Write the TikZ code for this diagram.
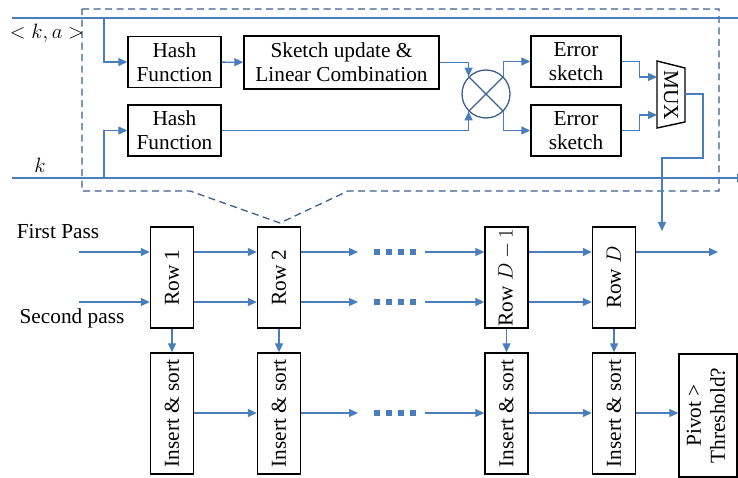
\documentclass[tikz,border=0pt]{standalone}
\usepackage{fontspec}
\setmainfont{Liberation Serif}
\usetikzlibrary{arrows.meta,calc,positioning}
\definecolor{wire}{RGB}{74,126,187}
\definecolor{frame}{RGB}{59,95,143}
\newcommand{\boxfont}{\fontsize{21.3}{24}\selectfont}

\begin{document}
\begin{tikzpicture}[x=1pt, y=-1pt,
  fbox/.style={draw, line width=1.4pt, inner sep=0pt, align=center, font=\boxfont},
  hbox/.style={fbox, minimum width=93pt, minimum height=51pt},
  ebox/.style={fbox, minimum width=90pt, minimum height=51pt},
  rowbox/.style={fbox, minimum width=43pt, minimum height=101pt},
  insbox/.style={fbox, minimum width=43pt, minimum height=121pt},
  wire/.style={draw=wire, line width=1.3pt},
  arr/.style={wire, -{Triangle[length=9pt,width=8pt]}},
  dots/.style={draw=wire, line width=6pt, dash pattern=on 6pt off 6pt},
  lbl/.style={font=\boxfont, inner sep=0pt}
]
\useasboundingbox (0,0) rectangle (738,478);

% zoomed-in row logic
\draw[frame, line width=1.3pt, dash pattern=on 7pt off 4.5pt]
  (82,9) -- (719,9) -- (719,191) -- (348,191) -- (280,223) -- (190,191) -- (82,191) -- cycle;

\coordinate (kaL) at (12,18);
\coordinate (kaR) at (740,18);
\coordinate (kL) at (12,178);
\coordinate (kR) at (746,178);
\coordinate (tap) at (104,0);
\node[lbl] (kalbl) at (47,33) {$<k,a>$};
\node[lbl] (klbl) at (40,165) {$k$};

\node[hbox] (hash1) at (174.5,62) {Hash\\Function};
\node[hbox] (hash2) at (174.5,130.5) {Hash\\Function};
\node[fbox, minimum width=195pt, minimum height=53pt] (sketch) at (341.5,62.5) {Sketch update \&\\Linear Combination};
\node[circle, draw=frame, line width=1.3pt, minimum size=48pt, inner sep=0pt] (mix) at (486,94) {};
\draw[frame, line width=1.3pt] (mix.north west) -- (mix.south east) (mix.north east) -- (mix.south west);
\node[ebox] (err1) at (576,61.5) {Error\\sketch};
\node[ebox] (err2) at (576,130.5) {Error\\sketch};

% mux
\draw[line width=1.4pt] (657,61) -- (685,68) -- (685,122) -- (657,128) -- cycle;
\node[lbl] (mux) at (671,95) {\rotatebox{-90}{MUX}};
\coordinate (muxA) at (657,77);
\coordinate (muxB) at (657,115);
\coordinate (muxO) at (685,94);
\coordinate (muxEnd) at (662,231);

\draw[wire] (kaL) -- (kaR);
\draw[arr] (kL) -- (kR);
\draw[arr] (kaL -| tap) |- (hash1.west);
\draw[arr] (kL -| tap) |- (hash2.west);
\draw[arr] (hash1) -- (sketch);
\draw[arr] (sketch.east) -| (mix.north west);
\draw[arr] (hash2.east) -| (mix.south west);
\draw[arr] (mix.north east) |- (err1.west);
\draw[arr] (mix.south east) |- (err2.west);
\draw[arr] (err1.east) -- ++(18,0) |- (muxA);
\draw[arr] (err2.east) -- ++(18,0) |- (muxB);
\draw[arr] (muxO) -- ++(18,0) -- ++(0,64) -| (muxEnd);

% pipeline of rows
\coordinate (ya) at (0,252);
\coordinate (yb) at (0,302);
\coordinate (yc) at (0,413);
\coordinate (inA) at (79,252);
\coordinate (inB) at (79,302);
\coordinate (cut) at (358,0);
\coordinate (dotL) at (374,0);
\coordinate (dotR) at (417,0);
\coordinate (join) at (425,0);
\coordinate (outD) at (718,252);
\node[lbl] (first) at (58,232) {First Pass};
\node[lbl] (second) at (72,318) {Second pass};

\foreach \n/\x/\t in {r1/172/{Row 1}, r2/279/{Row 2}, r3/506.5/{Row $D-1$}, r4/614/{Row $D$}} {
  \node[rowbox] (\n) at (\x,277.5) {\rotatebox{90}{\t}};
  \node[insbox] (i\n) at (\x,413.5) {\rotatebox{90}{Insert \& sort}};
  \draw[arr] (\n) -- (i\n);
}
\node[fbox, minimum width=58pt, minimum height=123pt] (piv) at (708,415.5)
  {\rotatebox{90}{\begin{tabular}{@{}c@{}}Pivot >\\Threshold?\end{tabular}}};

\draw[arr] (inA) -- (r1.west |- ya);
\draw[arr] (inB) -- (r1.west |- yb);
\foreach \y in {ya,yb} {
  \draw[arr] (r1.east |- \y) -- (r2.west |- \y);
  \draw[arr] (r2.east |- \y) -- (cut |- \y);
  \draw[dots] (dotL |- \y) -- (dotR |- \y);
  \draw[arr] (join |- \y) -- (r3.west |- \y);
  \draw[arr] (r3.east |- \y) -- (r4.west |- \y);
}
\draw[arr] (r4.east |- ya) -- (outD);
\draw[arr] (ir1.east |- yc) -- (ir2.west |- yc);
\draw[arr] (ir2.east |- yc) -- (cut |- yc);
\draw[dots] (dotL |- yc) -- (dotR |- yc);
\draw[arr] (join |- yc) -- (ir3.west |- yc);
\draw[arr] (ir3.east |- yc) -- (ir4.west |- yc);
\draw[arr] (ir4.east |- yc) -- (piv.west |- yc);
\end{tikzpicture}
\end{document}
